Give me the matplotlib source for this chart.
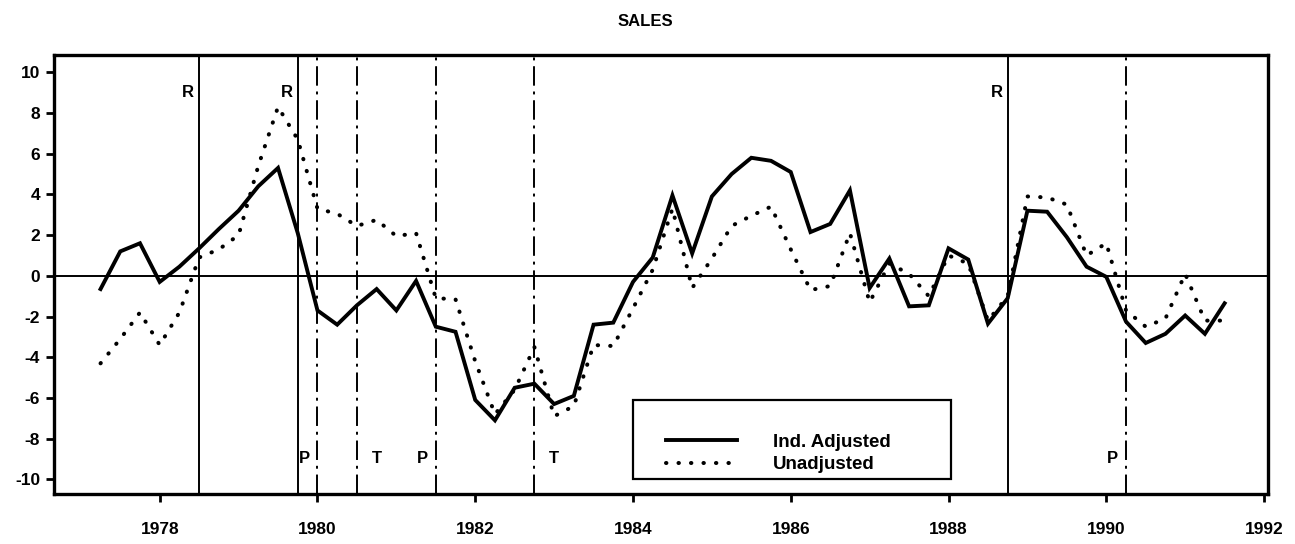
import numpy as np
import matplotlib
matplotlib.use("Agg")
import matplotlib.pyplot as plt
from matplotlib.patches import Rectangle

plt.rcParams['font.family'] = ['Liberation Sans', 'DejaVu Sans']
plt.rcParams['font.weight'] = 'bold'
plt.rcParams['axes.unicode_minus'] = False

# quarterly, 1977 Q2 .. 1991 Q3
start_year = 1977.25
adjusted = [-0.65, 1.2, 1.6, -0.3, 0.45, 1.35, 2.3, 3.2, 4.4, 5.3,
            2.1, -1.7, -2.4, -1.45, -0.65, -1.7, -0.25, -2.5, -2.75, -6.1,
            -7.1, -5.5, -5.3, -6.3, -5.9, -2.4, -2.3, -0.3, 0.9, 3.95,
            1.1, 3.9, 5.0, 5.8, 5.65, 5.1, 2.15, 2.55, 4.2, -0.6,
            0.85, -1.5, -1.45, 1.35, 0.8, -2.35, -1.1, 3.2, 3.15, 1.9,
            0.45, -0.05, -2.25, -3.3, -2.85, -1.95, -2.85, -1.35]
unadjusted = [-4.3, -3.1, -1.8, -3.4, -1.8, 0.9, 1.3, 2.0, 5.4, 8.3,
              6.7, 3.3, 3.05, 2.45, 2.75, 1.95, 2.1, -1.1, -1.15, -4.2,
              -6.8, -5.6, -3.5, -6.9, -6.4, -3.4, -3.45, -1.6, 0.3, 3.3,
              -0.6, 0.85, 2.45, 2.95, 3.4, 1.3, -0.7, -0.5, 2.1, -1.3,
              0.6, 0.1, -1.0, 1.0, 0.6, -2.2, -1.0, 3.9, 3.85, 3.5,
              1.0, 1.6, -1.7, -2.5, -2.1, 0.1, -2.2, -2.2]
dates = start_year + 0.25 * np.arange(len(adjusted))

# reference cycle dates
recessions = [1978.5, 1979.75, 1988.75]          # solid lines, "R"
turns = [1980.0, 1980.5, 1981.5, 1982.75, 1990.25]  # dash-dot lines
turn_labels = ['P', 'T', 'P', 'T', 'P']

fig = plt.figure(figsize=(12.95, 5.44), dpi=100)
ax = fig.add_axes([54/1295, 1-494/544, 1214/1295, 439/544])

ax.plot(dates, adjusted, color='black', lw=2.8, solid_joinstyle='miter',
        label='Ind. Adjusted', zorder=4)
ax.plot(dates, unadjusted, color='black', lw=2.9, linestyle=(0, (0.1, 3.0)),
        dash_capstyle='round', label='Unadjusted', zorder=4)

ax.axhline(0, color='black', lw=1.4, zorder=2)
for x in recessions:
    ax.axvline(x, color='black', lw=1.4, zorder=2)
    ax.text(x - 0.14, 9.0, 'R', ha='center', va='center', fontsize=12)
for x, lab in zip(turns, turn_labels):
    ax.axvline(x, color='black', lw=1.4, linestyle=(0, (10, 3, 1.5, 3)), zorder=2)
    dx = -0.17 if lab == 'P' else 0.25
    ax.text(x + dx, -9.0, lab, ha='center', va='center', fontsize=12)

ax.set_xlim(1976.66, 1992.05)
ax.set_ylim(-10.72, 10.85)
ax.set_xticks(range(1978, 1993, 2))
ax.set_yticks(range(-10, 11, 2))
ax.tick_params(direction='out', length=6, width=2, labelsize=12.5, color='black')
ax.tick_params(axis='x', pad=14)
ax.tick_params(axis='y', pad=4)
for s in ax.spines.values():
    s.set_linewidth(2.4)

ax.add_patch(Rectangle((0.477, 0.034), 0.262, 0.18, transform=ax.transAxes,
                       facecolor='white', edgecolor='black', lw=1.6, zorder=5))
ax.legend(loc='upper left', bbox_to_anchor=(0.504, 0.138), frameon=False,
          fontsize=13.5, handlelength=3.8, handletextpad=1.9, labelspacing=0.3,
          borderpad=0, borderaxespad=0).set_zorder(6)

fig.text(645/1295, 1 - 22/544, 'SALES', ha='center', va='center', fontsize=12)

fig.savefig('out.png', dpi=100)
